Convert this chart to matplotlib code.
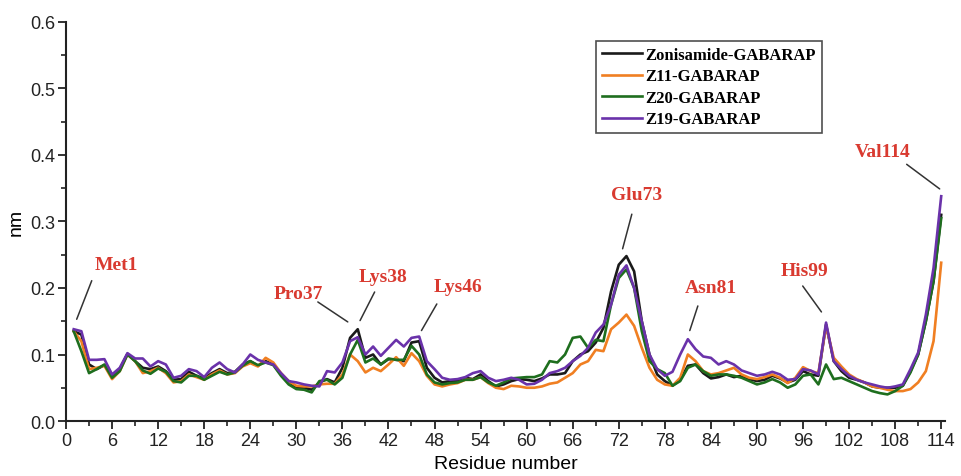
import numpy as np
import matplotlib
matplotlib.use("Agg")
import matplotlib.pyplot as plt
from matplotlib.ticker import MultipleLocator

residues = list(range(1, 115))

zonisamide = [
    0.135, 0.130, 0.085, 0.078, 0.084, 0.068, 0.078, 0.101, 0.090, 0.080,
    0.078, 0.082, 0.075, 0.062, 0.063, 0.074, 0.068, 0.064, 0.072, 0.078,
    0.072, 0.074, 0.085, 0.090, 0.083, 0.090, 0.085, 0.070, 0.060, 0.050,
    0.050, 0.047, 0.058, 0.063, 0.058, 0.080, 0.125, 0.138, 0.095, 0.100,
    0.085, 0.093, 0.092, 0.090, 0.118, 0.120, 0.080, 0.065, 0.058, 0.060,
    0.060, 0.065, 0.063, 0.070, 0.060, 0.052, 0.055, 0.060, 0.063, 0.062,
    0.060, 0.064, 0.070, 0.070, 0.072, 0.090, 0.100, 0.105, 0.118, 0.140,
    0.195, 0.235, 0.248, 0.225, 0.150, 0.100, 0.070, 0.060, 0.053, 0.062,
    0.083, 0.085, 0.072, 0.064, 0.066, 0.070, 0.066, 0.068, 0.063, 0.060,
    0.062, 0.068, 0.064, 0.058, 0.062, 0.075, 0.070, 0.068, 0.145, 0.090,
    0.075, 0.065, 0.062, 0.058, 0.052, 0.050, 0.050, 0.050, 0.053, 0.075,
    0.100, 0.150, 0.210, 0.310]

z11 = [
    0.135, 0.120, 0.078, 0.080, 0.083, 0.063, 0.075, 0.100, 0.090, 0.072,
    0.075, 0.080, 0.072, 0.058, 0.060, 0.070, 0.066, 0.062, 0.070, 0.076,
    0.070, 0.072, 0.082, 0.087, 0.082, 0.095, 0.088, 0.072, 0.060, 0.053,
    0.052, 0.052, 0.055, 0.056, 0.056, 0.070, 0.100, 0.090, 0.073, 0.080,
    0.075, 0.085, 0.096, 0.083, 0.102, 0.090, 0.068, 0.055, 0.052, 0.055,
    0.057, 0.062, 0.062, 0.066, 0.057, 0.050, 0.048, 0.053, 0.052, 0.050,
    0.050, 0.052, 0.056, 0.058, 0.065, 0.072, 0.085, 0.090, 0.107, 0.105,
    0.138, 0.148, 0.160, 0.143, 0.110, 0.080, 0.062, 0.055, 0.053, 0.065,
    0.100, 0.090, 0.075, 0.070, 0.072, 0.076, 0.080, 0.070, 0.065, 0.063,
    0.066, 0.070, 0.065, 0.057, 0.065, 0.081, 0.075, 0.072, 0.143, 0.095,
    0.082, 0.070, 0.063, 0.058, 0.052, 0.050, 0.047, 0.045, 0.045, 0.048,
    0.058, 0.075, 0.120, 0.238]

z20 = [
    0.135, 0.105, 0.072, 0.078, 0.085, 0.065, 0.075, 0.100, 0.090, 0.076,
    0.071, 0.079, 0.074, 0.060, 0.058, 0.068, 0.068, 0.062, 0.068, 0.074,
    0.070, 0.073, 0.083, 0.090, 0.084, 0.088, 0.084, 0.068, 0.055, 0.048,
    0.047, 0.043, 0.060, 0.062, 0.055, 0.065, 0.100, 0.122, 0.088, 0.094,
    0.085, 0.094, 0.092, 0.092, 0.113, 0.100, 0.070, 0.058, 0.055, 0.057,
    0.058, 0.062, 0.062, 0.066, 0.058, 0.053, 0.058, 0.064, 0.065, 0.066,
    0.066, 0.070, 0.090, 0.088, 0.100, 0.125, 0.127, 0.110, 0.122, 0.120,
    0.175, 0.215, 0.228, 0.200, 0.135, 0.090, 0.078, 0.072, 0.053, 0.060,
    0.080, 0.085, 0.075, 0.068, 0.070, 0.070, 0.068, 0.065, 0.060, 0.055,
    0.058, 0.063, 0.058, 0.050, 0.055, 0.068, 0.070, 0.055, 0.085, 0.063,
    0.065, 0.060, 0.055, 0.050, 0.045, 0.042, 0.040, 0.045, 0.053, 0.073,
    0.100, 0.150, 0.210, 0.305]

z19 = [
    0.138, 0.135, 0.092, 0.092, 0.093, 0.070, 0.080, 0.102, 0.094, 0.094,
    0.082, 0.090, 0.085, 0.065, 0.068, 0.078, 0.075, 0.066, 0.080, 0.088,
    0.078, 0.073, 0.085, 0.100, 0.092, 0.088, 0.085, 0.072, 0.060, 0.058,
    0.055, 0.053, 0.052, 0.075, 0.073, 0.088, 0.120, 0.126, 0.100, 0.112,
    0.098, 0.110, 0.122, 0.112, 0.125, 0.127, 0.090, 0.078, 0.065, 0.062,
    0.063, 0.066, 0.072, 0.075, 0.065, 0.060, 0.062, 0.065, 0.062, 0.055,
    0.056, 0.062, 0.072, 0.075, 0.080, 0.090, 0.098, 0.110, 0.133, 0.145,
    0.175, 0.220, 0.234, 0.200, 0.150, 0.100, 0.078, 0.068, 0.074, 0.100,
    0.123, 0.108, 0.097, 0.095, 0.085, 0.090, 0.085, 0.076, 0.072, 0.068,
    0.070, 0.074, 0.070, 0.062, 0.063, 0.078, 0.076, 0.070, 0.148, 0.090,
    0.078, 0.068, 0.062, 0.058, 0.055, 0.052, 0.050, 0.052, 0.055, 0.078,
    0.103, 0.160, 0.230, 0.338]

series_names = ["Zonisamide-GABARAP", "Z11-GABARAP", "Z20-GABARAP", "Z19-GABARAP"]
series_colors = ["#1a1a1a", "#f07f22", "#1e6e1e", "#6a32aa"]

# annotation labels: (text, text position, leader line start, leader line end)
ann_labels = ["Met1", "Pro37", "Lys38", "Lys46", "Glu73", "Asn81", "His99", "Val114"]
ann_text_xy = [(6.6, 0.235), (30.2, 0.192), (41.3, 0.218), (51.0, 0.202),
               (74.3, 0.340), (84.0, 0.200), (96.2, 0.227), (106.4, 0.406)]
ann_line_from = [(3.35, 0.211), (32.8, 0.179), (40.2, 0.194), (48.3, 0.176),
                 (73.7, 0.311), (82.3, 0.173), (95.96, 0.203), (109.5, 0.386)]
ann_line_to = [(1.39, 0.153), (36.7, 0.149), (38.3, 0.151), (46.3, 0.136),
               (72.5, 0.259), (81.25, 0.136), (98.4, 0.164), (113.8, 0.349)]

plt.rcParams['font.family'] = ['Liberation Sans', 'DejaVu Sans']

fig = plt.figure(figsize=(9.61, 4.77), dpi=100)
ax = fig.add_axes([0.0687, 0.1153, 0.9834 - 0.0687, 0.9518 - 0.1153])

all_series = [zonisamide, z11, z20, z19]
for i, (vals, name, col) in enumerate(zip(all_series, series_names, series_colors)):
    ax.plot(residues, vals, color=col, lw=1.9, label=name, zorder=2 + i,
            solid_joinstyle='round')

for lab, txy, lf, lt in zip(ann_labels, ann_text_xy, ann_line_from, ann_line_to):
    ax.annotate("", xy=lt, xytext=lf,
                arrowprops=dict(arrowstyle='-', color='#333333', lw=1.1,
                                shrinkA=0, shrinkB=0))
    ax.text(txy[0], txy[1], lab, ha='center', va='center',
            family=['Liberation Serif', 'DejaVu Serif'], fontweight='bold',
            fontsize=14, color='#d93a30')

ax.set_xlim(0, 114.5)
ax.set_ylim(0, 0.6)
ax.xaxis.set_major_locator(MultipleLocator(6))
ax.xaxis.set_minor_locator(MultipleLocator(3))
ax.yaxis.set_major_locator(MultipleLocator(0.1))
ax.yaxis.set_minor_locator(MultipleLocator(0.05))
ax.yaxis.set_major_formatter(matplotlib.ticker.FormatStrFormatter('%.1f'))

for s in ['top', 'right']:
    ax.spines[s].set_visible(False)
for s in ['left', 'bottom']:
    ax.spines[s].set_linewidth(1.5)
    ax.spines[s].set_color('#222222')

ax.tick_params(axis='both', which='major', direction='out', length=6, width=1.3,
               labelsize=13, colors='#222222', pad=2)
ax.tick_params(axis='both', which='minor', direction='out', length=3.5, width=1.2,
               colors='#222222')

ax.set_xlabel("Residue number", fontsize=14, labelpad=4)
ax.set_ylabel("nm", fontsize=14, labelpad=4)

leg = ax.legend(loc='upper right', bbox_to_anchor=(0.860, 0.952), borderaxespad=0,
                prop={'family': ['Liberation Serif', 'DejaVu Serif'], 'weight': 'bold',
                      'size': 12},
                frameon=True, fancybox=False, handlelength=2.4, handletextpad=0.2,
                labelspacing=0.33, borderpad=0.35)
leg.get_frame().set_edgecolor('#222222')
leg.get_frame().set_linewidth(1.2)

fig.savefig("out.png", dpi=100)
